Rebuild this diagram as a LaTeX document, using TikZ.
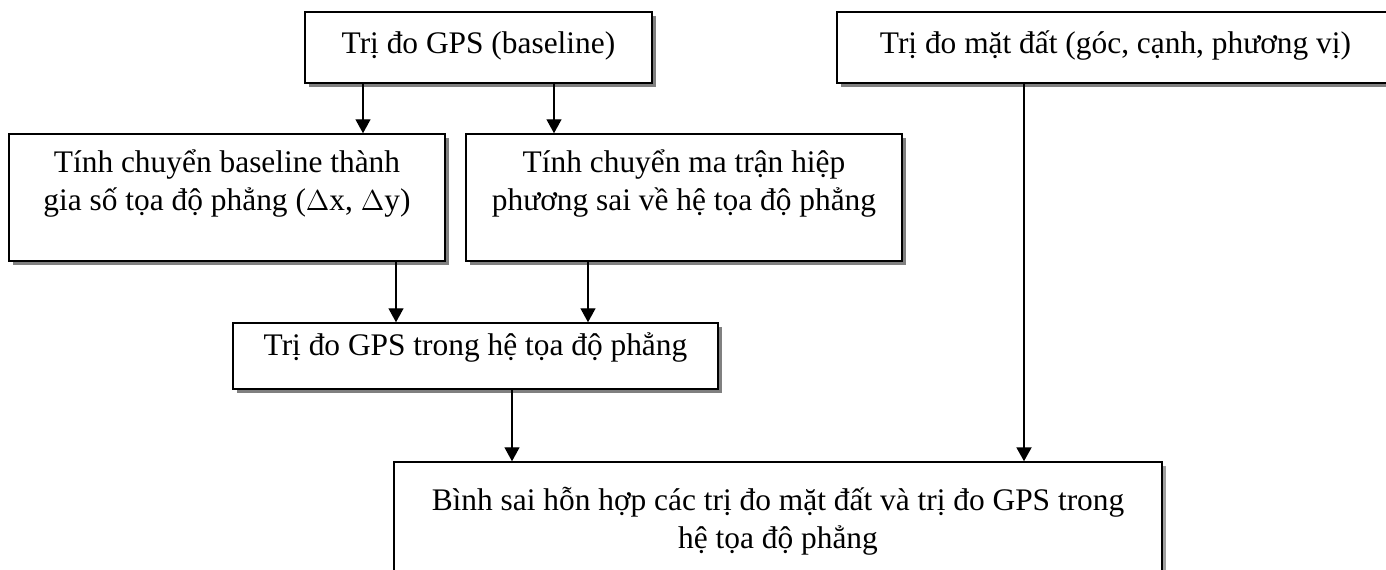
\documentclass[tikz,border=0pt]{standalone}
\usepackage{fontspec}
\setmainfont{Liberation Serif}
\usetikzlibrary{shadows,arrows.meta}

\begin{document}
\begin{tikzpicture}[x=0.5pt,y=-0.5pt,
  box/.style={draw,line width=0.75pt,fill=white,inner sep=0pt,
    drop shadow={shadow xshift=2.2pt,shadow yshift=-2.2pt,fill=gray,opacity=1}},
  txt/.style={font=\fontsize{15.7}{19.2}\selectfont,align=center,inner sep=0pt,anchor=base},
  arr/.style={line width=0.7pt,-{Triangle[length=7pt,width=7.5pt]}}]
  \clip (0,0) rectangle (1386,569);
  \fill[white] (0,0) rectangle (1386,569);
  % boxes
  \node[box,minimum width=173.5pt,minimum height=35.5pt] (gps) at (478.5,47.5) {};
  \node[box,minimum width=278.5pt,minimum height=35.5pt] (ground) at (1115.5,47.5) {};
  \node[box,minimum width=218pt,minimum height=63.5pt] (convbase) at (227,197.5) {};
  \node[box,minimum width=218pt,minimum height=63.5pt] (convcov) at (684,197.5) {};
  \node[box,minimum width=242.5pt,minimum height=33pt] (gpsplane) at (475.5,356) {};
  \node[box,minimum width=384pt,minimum height=69pt,
    drop shadow={shadow xshift=2.2pt,shadow yshift=-2.2pt,fill=gray!75,opacity=1}] (adjust) at (778,531) {};
  % texts (base = last line)
  \node[txt] (gpsT) at ([yshift=-21pt]gps.north) {Trị đo GPS (baseline)};
  \node[txt] (groundT) at ([yshift=-21pt]ground.north) {Trị đo mặt đất (góc, cạnh, phương vị)};
  \node[txt] (convbaseT) at ([yshift=-38.7pt]convbase.north) {Tính chuyển baseline thành\\gia số tọa độ phẳng ($\Delta$x, $\Delta$y)};
  \node[txt] (convcovT) at ([yshift=-38.7pt]convcov.north) {Tính chuyển ma trận hiệp\\phương sai về hệ tọa độ phẳng};
  \node[txt] (gpsplaneT) at ([yshift=-16.5pt]gpsplane.north) {Trị đo GPS trong hệ tọa độ phẳng};
  \node[txt] (adjustT) at ([yshift=-43.7pt]adjust.north) {Bình sai hỗn hợp các trị đo mặt đất và trị đo GPS trong\\hệ tọa độ phẳng};
  % connectors
  \draw[arr] (gps.south -| 363,0) -- (convbase.north -| 363,0);
  \draw[arr] (gps.south -| 554,0) -- (convcov.north -| 554,0);
  \draw[arr,line width=1pt] (ground.south -| 1024,0) -- (adjust.north -| 1024,0);
  \draw[arr] (convbase.south -| 396,0) -- (gpsplane.north -| 396,0);
  \draw[arr] (convcov.south -| 588,0) -- (gpsplane.north -| 588,0);
  \draw[arr] (gpsplane.south -| 512,0) -- (adjust.north -| 512,0);
\end{tikzpicture}
\end{document}
